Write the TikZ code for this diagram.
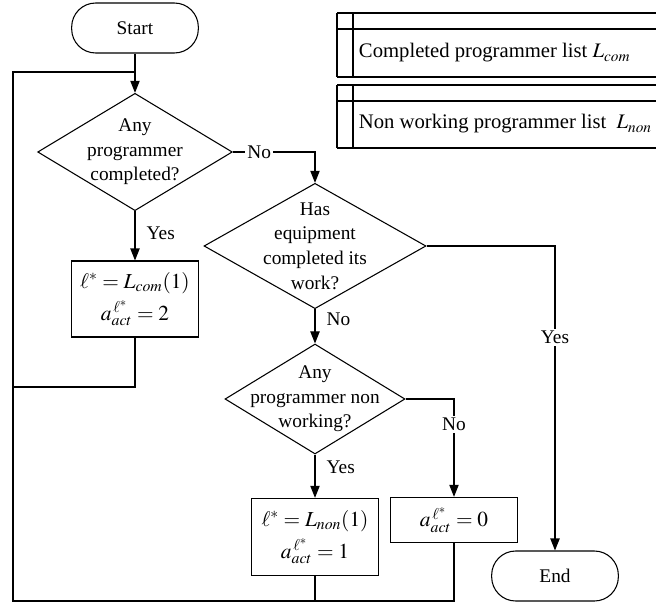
\documentclass[tikz,border=0pt]{standalone}
\usepackage{mathptmx}
\usepackage[no-math]{fontspec}
\setmainfont{Liberation Serif}
\usetikzlibrary{shapes.geometric,arrows.meta}

\begin{document}
\begin{tikzpicture}[x=0.75pt, y=-0.75pt, line width=0.8pt,
    every node/.style={font=\fontsize{14.5}{18.5}\selectfont},
    term/.style={draw, rectangle, rounded corners=18pt, minimum width=95pt, minimum height=37.5pt},
    decide/.style={draw, diamond, align=center, inner sep=0pt},
    act/.style={draw, rectangle, align=center, minimum width=95pt, font=\fontsize{16}{19}\selectfont},
    arr/.style={-{Triangle[length=9pt, width=7pt]}},
    lbl/.style={fill=white, inner sep=1.5pt},
    side/.style={right, xshift=5pt},
    legend/.style={anchor=west, font=\fontsize{15.5}{18.5}\selectfont}]
  \useasboundingbox (0,0) rectangle (656,602);
  % legend
  \foreach \t/\b in {13/77, 85/148} {
    \draw[line width=1.1pt] (337,\t) -- (656,\t) (337,\t+16) -- (656,\t+16) (337,\b) -- (656,\b);
    \draw (337,\t) -- (337,\b) (353,\t) -- (353,\b);
  }
  \node[legend] (lcom) at (354,53) {Completed programmer list $L_{com}$};
  \node[legend] (lnon) at (354,124) {Non working programmer list\ \ $L_{non}$};
  % flow
  \node[term] (start) at (135,28) {Start};
  \node[decide, minimum width=146pt, minimum height=88pt, aspect=1.66, inner ysep=-3pt] (d1) at (135,152)
    {Any\\programmer\\completed?};
  \node[act, minimum height=57pt] (b1) at (135,299)
    {$\ell^{*}=L_{com}(1)$\\[5pt]$a_{act}^{\,\ell^{*}}=2$};
  \node[decide, minimum width=166.5pt, minimum height=94pt, aspect=1.77, inner ysep=-12pt] (d2) at (315,246)
    {Has\\equipment\\completed its\\work?};
  \node[decide, minimum width=135pt, minimum height=82.5pt, aspect=1.64, inner xsep=-10pt, inner ysep=-10pt] (d3) at (315,399)
    {Any\\programmer non\\working?};
  \node[act, minimum height=58pt] (b2) at (315,537)
    {$\ell^{*}=L_{non}(1)$\\[5pt]$a_{act}^{\,\ell^{*}}=1$};
  \node[act, minimum height=34pt] (b3) at (454,520) {$a_{act}^{\,\ell^{*}}=0$};
  \node[term] (end) at (555,576) {End};
  \coordinate (jn) at (135,72);
  \coordinate (bl) at (13,601);
  \coordinate (b1l) at (13,387);

  \draw[arr] (start) -- (d1);
  \draw[arr] (d1.east) -| node[lbl, pos=0.16] {No} (d2.north);
  \draw[arr] (d1) -- node[side, pos=0.45] {Yes} (b1);
  \draw[arr] (d2) -- node[side, pos=0.3] {No} (d3);
  \draw[arr] (d2.east) -| node[lbl, pos=0.65] {Yes} (end);
  \draw[arr] (d3.east) -| node[lbl, pos=0.63] {No} (b3);
  \draw[arr] (d3) -- node[side, pos=0.3] {Yes} (b2);
  \draw (b1.south) |- (b1l);
  \draw (b3.south) |- (bl);
  \draw[line width=1.1pt] (b2.south) |- (bl) |- (jn);
\end{tikzpicture}
\end{document}
